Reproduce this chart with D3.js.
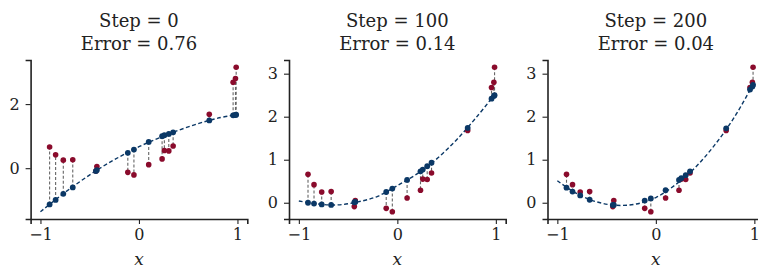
<!DOCTYPE html>
<html lang="en">
<head>
    <meta charset="UTF-8">
    <title>Polynomial fit steps</title>
    <script src="https://cdnjs.cloudflare.com/ajax/libs/d3/7.8.5/d3.min.js"></script>
    <style>
        body { margin: 0; background: #fff; }
        text { font-family: "DejaVu Serif", serif; fill: #222; }
    </style>
</head>
<body>
    <div id="wrapper"></div>
    <script>
        // observed points (red), same in every panel
        const xObs = [-0.907, -0.846, -0.768, -0.672, -0.437, -0.427, -0.113, -0.051, 0.099, 0.235, 0.258, 0.303, 0.347, 0.714, 0.956, 0.980, 0.987]
        const yObs = [0.66, 0.42, 0.25, 0.26, -0.09, 0.05, -0.13, -0.21, 0.11, 0.29, 0.55, 0.54, 0.69, 1.68, 2.68, 2.80, 3.15]

        // fitted values (blue) at each step
        const fitStep0 = [-1.13, -0.99, -0.80, -0.60, -0.09, -0.06, 0.48, 0.58, 0.82, 1.00, 1.03, 1.07, 1.12, 1.49, 1.65, 1.66, 1.67]
        const fitStep100 = [0.00, -0.02, -0.04, -0.05, 0.01, 0.02, 0.25, 0.33, 0.53, 0.73, 0.77, 0.85, 0.93, 1.74, 2.42, 2.48, 2.50]
        const fitStep200 = [0.35, 0.26, 0.17, 0.07, -0.05, -0.05, 0.05, 0.10, 0.29, 0.53, 0.57, 0.64, 0.73, 1.73, 2.63, 2.70, 2.74]

        // dashed model curve, read at a few x positions
        const xCurve = [-1, -0.8, -0.6, -0.4, -0.2, 0, 0.2, 0.4, 0.6, 0.8, 1]
        const curveStep0 = [-1.36, -0.87, -0.42, -0.01, 0.35, 0.67, 0.94, 1.18, 1.39, 1.56, 1.68]
        const curveStep100 = [0.04, -0.03, -0.05, 0.02, 0.15, 0.40, 0.67, 1.02, 1.46, 1.98, 2.55]
        const curveStep200 = [0.51, 0.21, 0.02, -0.06, -0.03, 0.12, 0.42, 0.82, 1.35, 2.00, 2.80]

        const steps = [0, 100, 200]
        const errors = ['0.76', '0.14', '0.04']
        const xTicks = [-1, 0, 1]
        const yTicksList = [[0, 2], [0, 1, 2, 3], [0, 1, 2, 3]]

        const panels = steps.map((s, i) => ({
            step: s,
            error: errors[i],
            fit: [fitStep0, fitStep100, fitStep200][i],
            curve: [curveStep0, curveStep100, curveStep200][i],
            yTicks: yTicksList[i],
        }))

        const red = '#8a0b2c'
        const blue = '#0b3866'

        let dimensions = {
            width: 758,
            height: 269,
            panelLefts: [30.6, 289, 547.5],
            panelWidth: 216.7,
            top: 60,
            bottom: 219,
        }

        const svg = d3.select('#wrapper')
            .append('svg')
                .attr('width', dimensions.width)
                .attr('height', dimensions.height)

        const fmt = d => d < 0 ? '\u2212' + Math.abs(d) : String(d)

        panels.forEach((p, i) => {
            const left = dimensions.panelLefts[i]
            const w = dimensions.panelWidth
            const h = dimensions.bottom - dimensions.top

            const g = svg.append('g')
                .attr('transform', `translate(${left}, ${dimensions.top})`)

            // scales, 5% padding like matplotlib
            const xScale = d3.scaleLinear().domain([-1.1, 1.1]).range([0, w])
            const allY = [...yObs, ...p.fit, ...p.curve]
            const [lo, hi] = d3.extent(allY)
            const pad = (hi - lo) * 0.05
            const yScale = d3.scaleLinear().domain([lo - pad, hi + pad]).range([h, 0])

            // vertical residual lines
            g.append('g')
                .selectAll('line')
                .data(xObs)
                .join('line')
                    .attr('x1', d => xScale(d))
                    .attr('x2', d => xScale(d))
                    .attr('y1', (d, j) => yScale(p.fit[j]))
                    .attr('y2', (d, j) => yScale(yObs[j]))
                    .attr('stroke', '#666')
                    .attr('stroke-width', 1.1)
                    .attr('stroke-dasharray', '3,2')

            // model curve
            const lineGenerator = d3.line()
                .x((d, j) => xScale(xCurve[j]))
                .y(d => yScale(d))
                .curve(d3.curveCatmullRom)

            g.append('path')
                .attr('d', lineGenerator(p.curve))
                .attr('fill', 'none')
                .attr('stroke', blue)
                .attr('stroke-width', 1.4)
                .attr('stroke-dasharray', '4,2.5')

            // observed points
            g.append('g')
                .selectAll('circle')
                .data(xObs)
                .join('circle')
                    .attr('cx', d => xScale(d))
                    .attr('cy', (d, j) => yScale(yObs[j]))
                    .attr('r', 2.8)
                    .attr('fill', red)

            // fitted points
            g.append('g')
                .selectAll('circle')
                .data(xObs)
                .join('circle')
                    .attr('cx', d => xScale(d))
                    .attr('cy', (d, j) => yScale(p.fit[j]))
                    .attr('r', 2.9)
                    .attr('fill', blue)

            // axes
            const xAxis = g.append('g')
                .attr('transform', `translate(0, ${h})`)
                .call(d3.axisBottom(xScale).tickValues(xTicks).tickFormat(fmt).tickSizeOuter(0).tickSize(5).tickPadding(5))
            const yAxis = g.append('g')
                .call(d3.axisLeft(yScale).tickValues(p.yTicks).tickFormat(fmt).tickSizeOuter(0).tickSize(5).tickPadding(6))

            ;[xAxis, yAxis].forEach(a => {
                a.select('.domain').attr('stroke', '#222').attr('stroke-width', 1.6)
                a.selectAll('.tick line').attr('stroke', '#222').attr('stroke-width', 1.1)
                a.selectAll('.tick text')
                    .attr('font-family', '"DejaVu Serif", serif')
                    .attr('font-size', 16)
                    .attr('fill', '#222')
            })

            // titles
            const cx = w / 2
            g.append('text')
                .attr('x', cx)
                .attr('y', 26.7 - dimensions.top)
                .attr('text-anchor', 'middle')
                .attr('font-size', 18)
                .text(`Step = ${p.step}`)
            g.append('text')
                .attr('x', cx)
                .attr('y', 50 - dimensions.top)
                .attr('text-anchor', 'middle')
                .attr('font-size', 18)
                .text(`Error = ${p.error}`)

            // x label
            g.append('text')
                .attr('x', cx)
                .attr('y', 265 - dimensions.top)
                .attr('text-anchor', 'middle')
                .attr('font-size', 17)
                .attr('font-style', 'italic')
                .text('x')
        })
    </script>
</body>
</html>
